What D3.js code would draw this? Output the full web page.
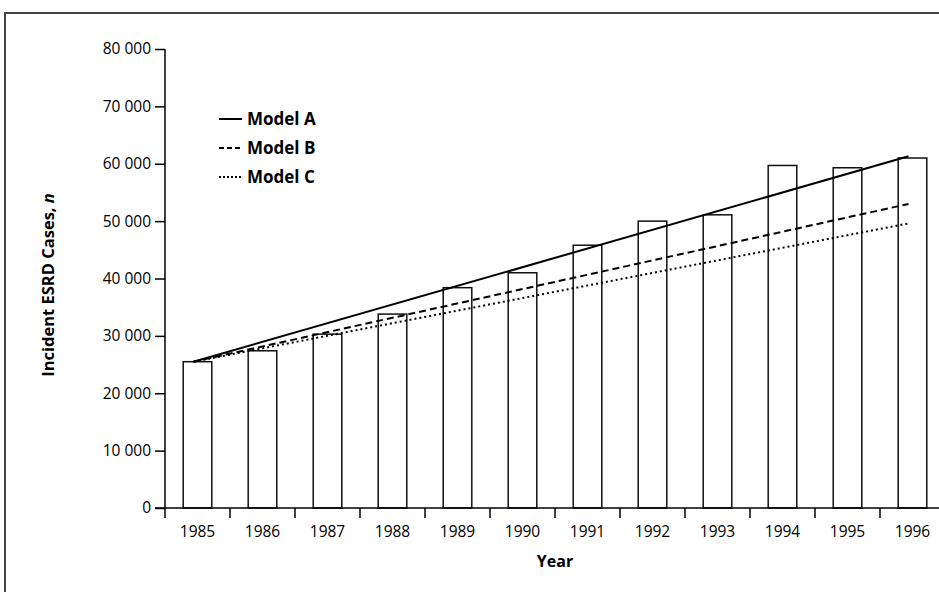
<!DOCTYPE html>
<html>
<head>
<meta charset="utf-8">
<script src="https://cdn.jsdelivr.net/npm/d3@7"></script>
<style>
  html, body { margin: 0; padding: 0; background: #fff; }
  svg { display: block; }
  text { font-family: "Open Sans", "Lato", sans-serif; fill: #000; }
</style>
</head>
<body>
<svg id="chart" width="939" height="592"></svg>
<script>
// ---- data ----
const years = ["1985","1986","1987","1988","1989","1990","1991","1992","1993","1994","1995","1996"];
const cases = [25500, 27400, 30300, 33800, 38400, 41000, 45800, 50000, 51100, 59700, 59300, 61000];
const modelYears = ["1985", "1996"];
const modelA = [25500, 61300];
const modelB = [25500, 53000];
const modelC = [25500, 49600];
const yTicks = [0, 10000, 20000, 30000, 40000, 50000, 60000, 70000, 80000];
const legendLabels = ["Model A", "Model B", "Model C"];

// ---- layout ----
const svg = d3.select("#chart");
const x0 = 165, x1 = 945, yTop = 49, yBottom = 508;

const x = d3.scaleBand().domain(years).range([x0, x1]).paddingInner(0.56).paddingOuter(0.28);
const xEdge = d3.scaleBand().domain(years).range([x0, x1]).padding(0);
const y = d3.scaleLinear().domain([0, 80000]).range([yBottom, yTop]);

// frame
svg.append("path")
  .attr("d", `M5,592 V13 H939`)
  .attr("fill", "none").attr("stroke", "#444").attr("stroke-width", 2);

// bars
svg.append("g").selectAll("rect").data(years).join("rect")
  .attr("x", d => x(d))
  .attr("width", x.bandwidth())
  .attr("y", (d, i) => y(cases[i]))
  .attr("height", (d, i) => y(0) - y(cases[i]))
  .attr("fill", "#fff").attr("stroke", "#111").attr("stroke-width", 1.5);

// model lines
const cx = d => x(d) + x.bandwidth() / 2 - 4;
const line = d3.line().x(d => cx(d[0])).y(d => y(d[1]));
const models = [
  {vals: modelA, dash: null, w: 2},
  {vals: modelB, dash: "7,4", w: 2},
  {vals: modelC, dash: "2,3", w: 2}
];
models.forEach(m => {
  svg.append("path")
    .datum(modelYears.map((yr, i) => [yr, m.vals[i]]))
    .attr("d", line)
    .attr("fill", "none").attr("stroke", "#000")
    .attr("stroke-width", m.w)
    .attr("stroke-dasharray", m.dash);
});

// y axis
const yAxis = d3.axisLeft(y).tickValues(yTicks).tickSize(10).tickPadding(4)
  .tickFormat(d => d3.format(",")(d).replace(/,/g, " "));
const gy = svg.append("g").attr("transform", `translate(${x0},0)`).call(yAxis);
gy.attr("font-size", null).attr("font-family", null);
gy.select(".domain").remove();
gy.append("line").attr("x1", 0).attr("x2", 0).attr("y1", yTop).attr("y2", yBottom)
  .attr("stroke", "#000").attr("stroke-width", 1.5);
gy.selectAll(".tick line").attr("stroke", "#000").attr("stroke-width", 1.5);
gy.selectAll(".tick text").style("font-size", "15.5px").attr("fill", "#000");

// x axis
const gx = svg.append("g").attr("transform", `translate(0,${yBottom})`);
gx.append("line").attr("x1", x0 - 10).attr("x2", 939).attr("y1", 0).attr("y2", 0)
  .attr("stroke", "#000").attr("stroke-width", 1.5);
gx.selectAll("line.tk").data(years).join("line").attr("class", "tk")
  .attr("x1", d => xEdge(d)).attr("x2", d => xEdge(d))
  .attr("y1", 0).attr("y2", 10)
  .attr("stroke", "#000").attr("stroke-width", 1.5);
gx.selectAll("text.lbl").data(years).join("text").attr("class", "lbl")
  .attr("x", d => xEdge(d) + xEdge.bandwidth() / 2)
  .attr("y", 29)
  .attr("text-anchor", "middle")
  .style("font-size", "15.5px")
  .text(d => d);

// axis titles
svg.append("text")
  .attr("x", 555).attr("y", 567)
  .attr("text-anchor", "middle")
  .style("font-size", "16px").style("font-weight", "bold")
  .text("Year");

const yt = svg.append("text")
  .attr("transform", `translate(54,285) rotate(-90)`)
  .attr("text-anchor", "middle")
  .style("font-size", "16.5px").style("font-weight", "bold");
yt.append("tspan").text("Incident ESRD Cases, ");
yt.append("tspan").style("font-style", "italic").text("n");

// legend
const legY = [119, 148, 177];
const dashes = [null, "5,3", "2,2"];
legendLabels.forEach((lab, i) => {
  svg.append("line")
    .attr("x1", 219).attr("x2", 242)
    .attr("y1", legY[i]).attr("y2", legY[i])
    .attr("stroke", "#000").attr("stroke-width", 2)
    .attr("stroke-dasharray", dashes[i]);
  svg.append("text")
    .attr("x", 247).attr("y", legY[i] + 6)
    .style("font-size", "17px").style("font-weight", "bold")
    .text(lab);
});
</script>
</body>
</html>
